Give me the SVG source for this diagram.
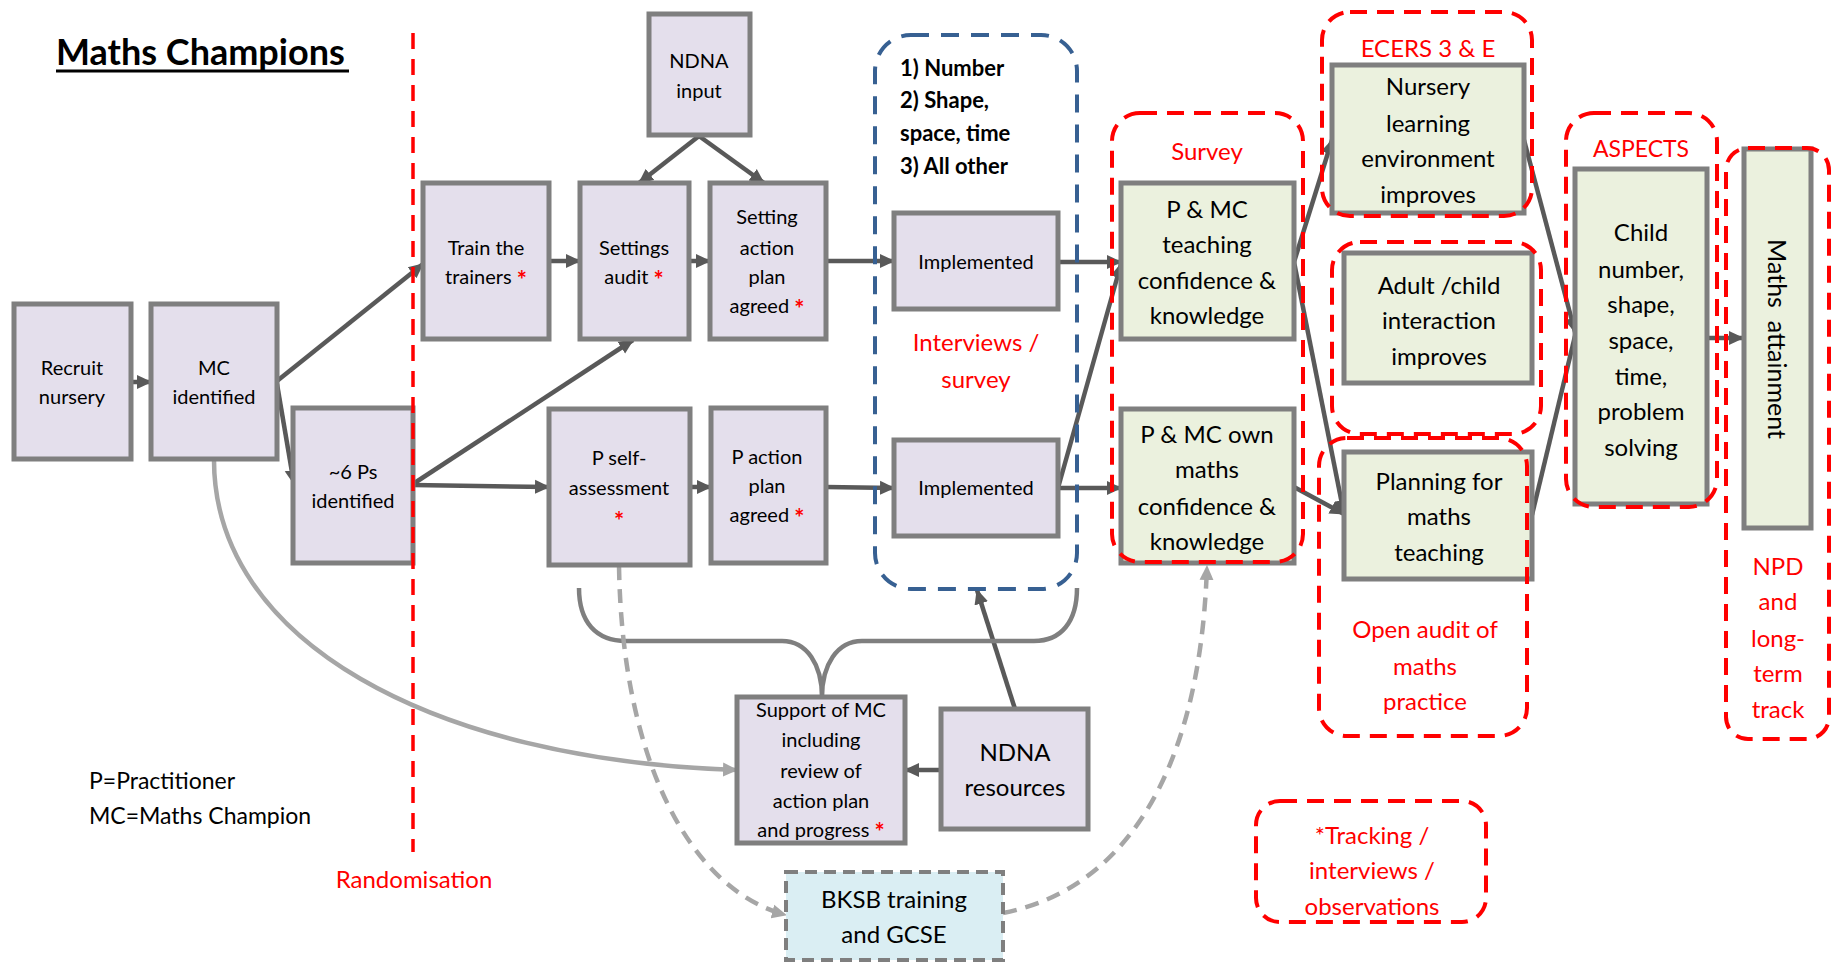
<svg xmlns="http://www.w3.org/2000/svg" width="1831" height="962" viewBox="0 0 1831 962">
<defs>
<style>
text{font-family:Lato,"Liberation Sans",sans-serif;fill:#000}
.n{fill:#E4DFEC;stroke:#7F7F7F;stroke-width:5}
.g{fill:#EBF1DE;stroke:#7F7F7F;stroke-width:5}
.s{font-size:20px;text-anchor:middle}
.m{font-size:24px;text-anchor:middle}
.r{fill:#FF0000}
.st{fill:#FF0000;font-size:24px;font-weight:bold}
.rb{fill:none;stroke:#FF0000;stroke-width:4;stroke-dasharray:17 10}
.c{fill:none;stroke:#595959;stroke-width:4.5}
.cl{fill:none;stroke:#A6A6A6;stroke-width:4.5}
</style>
<marker id="a" markerUnits="userSpaceOnUse" markerWidth="16" markerHeight="16" refX="14" refY="8" orient="auto"><path d="M0,1 L15,8 L0,15 z" fill="#595959"/></marker>
<marker id="al" markerUnits="userSpaceOnUse" markerWidth="16" markerHeight="16" refX="14" refY="8" orient="auto"><path d="M0,1 L15,8 L0,15 z" fill="#A6A6A6"/></marker>
</defs>
<rect width="1831" height="962" fill="#fff"/>

<g id="title">
<text x="56" y="65" style="font-size:36px;font-weight:bold">Maths Champions</text>
<line x1="56" y1="71" x2="349" y2="71" stroke="#000" stroke-width="3"/>
</g>

<g id="connectors">
<path class="c" marker-end="url(#a)" d="M131,382 L151,382"/>
<path class="c" marker-end="url(#a)" d="M277,381 L423,264"/>
<path class="c" marker-end="url(#a)" d="M277,384 L294,484"/>
<path class="c" marker-end="url(#a)" d="M413,484 L633,340"/>
<path class="c" marker-end="url(#a)" d="M413,485 L549,487"/>
<path class="c" marker-end="url(#a)" d="M549,261 L580,261"/>
<path class="c" marker-end="url(#a)" d="M689,261 L710,261"/>
<path class="c" marker-end="url(#a)" d="M826,261 L894,261"/>
<path class="c" marker-end="url(#a)" d="M1058,262 L1121,262"/>
<path class="c" marker-end="url(#a)" d="M699,136 L639,183"/>
<path class="c" marker-end="url(#a)" d="M699,136 L764,183"/>
<path class="c" marker-end="url(#a)" d="M690,487 L711,487"/>
<path class="c" marker-end="url(#a)" d="M826,487 L894,488"/>
<path class="c" marker-end="url(#a)" d="M1058,488 L1121,488"/>
<path class="c" marker-end="url(#a)" d="M1058,488 L1121,264"/>
<path class="c" marker-end="url(#a)" d="M1294,262 L1332,140"/>
<path class="c" marker-end="url(#a)" d="M1294,262 L1344,514"/>
<path class="c" marker-end="url(#a)" d="M1294,487 L1344,514"/>
<path class="c" marker-end="url(#a)" d="M1524,140 L1575,332"/>
<path class="c" d="M1532,515 L1575,336"/>
<path class="c" marker-end="url(#a)" d="M1707,338 L1743,338"/>
<path class="c" marker-end="url(#a)" d="M1015,709 L977,590"/>
<path class="c" marker-end="url(#a)" d="M941,770 L905,770"/>
<path fill="none" stroke="#7F7F7F" stroke-width="4.5" d="M579,588 C579,622 596,641 626,641 L782,641 C807,641 822,665 822,697 M1077,588 C1077,622 1061,641 1034,641 L862,641 C837,641 822,665 822,697"/>
<path class="cl" marker-end="url(#al)" d="M214,460 C214,640 430,760 737,770"/>
<path class="cl" stroke-dasharray="14 9" marker-end="url(#al)" d="M619,566 C622,760 690,890 786,915"/>
<path class="cl" stroke-dasharray="14 9" marker-end="url(#al)" d="M1003,913 C1120,890 1200,780 1207,566"/>
</g>

<g id="recruit"><rect class="n" x="14" y="304" width="117" height="155"/>
<text class="s" x="72" y="375">Recruit</text><text class="s" x="72" y="404">nursery</text></g>
<g id="mc"><rect class="n" x="151" y="304" width="126" height="155"/>
<text class="s" x="214" y="375">MC</text><text class="s" x="214" y="404">identified</text></g>
<g id="sixps"><rect class="n" x="293" y="408" width="120" height="155"/>
<text class="s" x="353" y="479">~6 Ps</text><text class="s" x="353" y="508">identified</text></g>
<g id="train"><rect class="n" x="423" y="183" width="126" height="156"/>
<text class="s" x="486" y="255">Train the</text><text class="s" x="486" y="284">trainers <tspan class="st" dy="5">*</tspan></text></g>
<g id="audit"><rect class="n" x="580" y="183" width="109" height="156"/>
<text class="s" x="634" y="255">Settings</text><text class="s" x="634" y="284">audit <tspan class="st" dy="5">*</tspan></text></g>
<g id="settingplan"><rect class="n" x="710" y="183" width="116" height="156"/>
<text class="s" x="767" y="224">Setting</text><text class="s" x="767" y="255">action</text><text class="s" x="767" y="284">plan</text><text class="s" x="767" y="313">agreed <tspan class="st" dy="5">*</tspan></text></g>
<g id="ndnainput"><rect class="n" x="649" y="14" width="101" height="121"/>
<text class="s" x="699" y="68">NDNA</text><text class="s" x="699" y="98">input</text></g>
<g id="pself"><rect class="n" x="549" y="409" width="141" height="156"/>
<text class="s" x="619" y="465">P self-</text><text class="s" x="619" y="495">assessment</text><text class="s st" x="619" y="530">*</text></g>
<g id="paction"><rect class="n" x="711" y="408" width="115" height="155"/>
<text class="s" x="767" y="464">P action</text><text class="s" x="767" y="493">plan</text><text class="s" x="767" y="522">agreed <tspan class="st" dy="5">*</tspan></text></g>
<g id="impl1"><rect class="n" x="894" y="213" width="164" height="96"/>
<text class="s" x="976" y="269">Implemented</text></g>
<g id="impl2"><rect class="n" x="894" y="440" width="164" height="96"/>
<text class="s" x="976" y="495">Implemented</text></g>
<g id="areas">
<text x="900" y="76" style="font-size:22px;font-weight:bold">1) Number</text>
<text x="900" y="108" style="font-size:22px;font-weight:bold">2) Shape,</text>
<text x="900" y="141" style="font-size:22px;font-weight:bold">space, time</text>
<text x="900" y="174" style="font-size:22px;font-weight:bold">3) All other</text>
<text class="m r" x="976" y="351">Interviews /</text><text class="m r" x="976" y="388">survey</text>
</g>
<g id="teachconf"><rect class="g" x="1121" y="183" width="173" height="156"/>
<text class="m" x="1207" y="218">P &amp; MC</text><text class="m" x="1207" y="253">teaching</text><text class="m" x="1207" y="289">confidence &amp;</text><text class="m" x="1207" y="324">knowledge</text></g>
<g id="ownconf"><rect class="g" x="1121" y="409" width="173" height="154"/>
<text class="m" x="1207" y="443">P &amp; MC own</text><text class="m" x="1207" y="478">maths</text><text class="m" x="1207" y="515">confidence &amp;</text><text class="m" x="1207" y="550">knowledge</text></g>
<g id="nursery"><rect class="g" x="1332" y="65" width="192" height="148"/>
<text class="m" x="1428" y="95">Nursery</text><text class="m" x="1428" y="132">learning</text><text class="m" x="1428" y="167">environment</text><text class="m" x="1428" y="203">improves</text></g>
<g id="adultchild"><rect class="g" x="1344" y="253" width="188" height="130"/>
<text class="m" x="1439" y="294">Adult /child</text><text class="m" x="1439" y="329">interaction</text><text class="m" x="1439" y="365">improves</text></g>
<g id="planning"><rect class="g" x="1344" y="452" width="188" height="127"/>
<text class="m" x="1439" y="490">Planning for</text><text class="m" x="1439" y="525">maths</text><text class="m" x="1439" y="561">teaching</text></g>
<g id="child"><rect class="g" x="1575" y="169" width="132" height="335"/>
<text class="m" x="1641" y="241">Child</text><text class="m" x="1641" y="278">number,</text><text class="m" x="1641" y="313">shape,</text><text class="m" x="1641" y="349">space,</text><text class="m" x="1641" y="385">time,</text><text class="m" x="1641" y="420">problem</text><text class="m" x="1641" y="456">solving</text></g>
<g id="attainment"><rect class="g" x="1744" y="149" width="67" height="379"/>
<text class="m" transform="translate(1768,339) rotate(90)" x="0" y="0" style="font-size:25px" xml:space="preserve">Maths  attainment</text></g>
<g id="support"><rect class="n" x="737" y="697" width="168" height="146"/>
<text class="s" x="821" y="717">Support of MC</text><text class="s" x="821" y="747">including</text><text class="s" x="821" y="778">review of</text><text class="s" x="821" y="808">action plan</text><text class="s" x="821" y="837">and progress <tspan class="st" dy="4">*</tspan></text></g>
<g id="ndnares"><rect class="n" x="941" y="709" width="147" height="120"/>
<text class="m" x="1015" y="761">NDNA</text><text class="m" x="1015" y="796">resources</text></g>
<g id="bksb"><rect x="786" y="872" width="217" height="88" fill="#DAEEF3" stroke="#7F7F7F" stroke-width="4" stroke-dasharray="12 7"/>
<text class="m" x="894" y="908">BKSB training</text><text class="m" x="894" y="943">and GCSE</text></g>
<g id="legend">
<text x="89" y="789" style="font-size:23px">P=Practitioner</text>
<text x="89" y="824" style="font-size:23px">MC=Maths Champion</text>
</g>

<g id="randomisation">
<line x1="413" y1="33" x2="413" y2="852" stroke="#FF0000" stroke-width="3.5" stroke-dasharray="16 10"/>
<text class="m r" x="414" y="888">Randomisation</text>
</g>
<g id="group-blue"><rect x="875" y="35" width="202" height="554" rx="36" fill="none" stroke="#376092" stroke-width="4" stroke-dasharray="18 12"/></g>
<g id="group-survey"><rect class="rb" x="1112" y="113" width="191" height="449" rx="28"/><text class="m r" x="1207" y="160">Survey</text></g>
<g id="group-ecers"><rect class="rb" x="1322" y="12" width="210" height="204" rx="28"/><text class="m r" x="1428" y="57">ECERS 3 &amp; E</text></g>
<g id="group-adult"><rect class="rb" x="1332" y="242" width="209" height="192" rx="28"/></g>
<g id="group-audit"><rect class="rb" x="1319" y="438" width="208" height="298" rx="28"/>
<text class="m r" x="1425" y="638">Open audit of</text><text class="m r" x="1425" y="675">maths</text><text class="m r" x="1425" y="710">practice</text></g>
<g id="group-aspects"><rect class="rb" x="1566" y="113" width="151" height="394" rx="28"/><text class="m r" x="1641" y="157" style="font-size:23px">ASPECTS</text></g>
<g id="group-npd"><rect class="rb" x="1726" y="148" width="103" height="591" rx="22"/>
<text class="m r" x="1778" y="575">NPD</text><text class="m r" x="1778" y="610">and</text><text class="m r" x="1778" y="647">long-</text><text class="m r" x="1778" y="682">term</text><text class="m r" x="1778" y="718">track</text></g>
<g id="tracking"><rect class="rb" x="1256" y="801" width="230" height="121" rx="24"/>
<text class="m r" x="1372" y="844">*Tracking /</text><text class="m r" x="1372" y="879">interviews /</text><text class="m r" x="1372" y="915">observations</text></g>
</svg>
